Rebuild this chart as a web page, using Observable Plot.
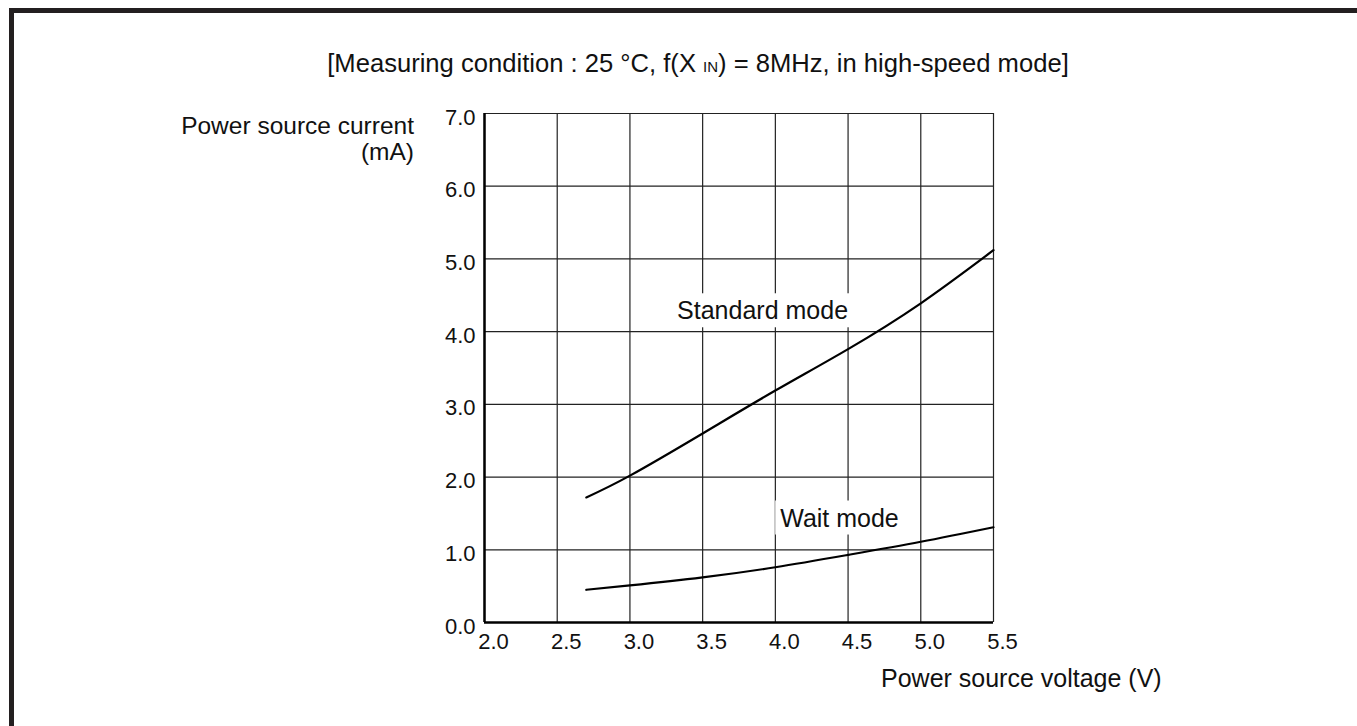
<!DOCTYPE html>
<html>
<head>
<meta charset="utf-8">
<script src="https://cdn.jsdelivr.net/npm/d3@7"></script>
<script src="https://cdn.jsdelivr.net/npm/@observablehq/plot@0.6"></script>
<style>
  html, body { margin: 0; padding: 0; background: #fff; }
  #wrap { position: relative; width: 1357px; height: 726px; overflow: hidden; font-family: "Liberation Sans", Arial, sans-serif; }
  #frame { position: absolute; left: 9px; top: 8px; width: 1360px; height: 730px;
           border-left: 5px solid #231f20; border-top: 5px solid #231f20; box-sizing: border-box; pointer-events: none; }
  svg text { font-family: "Liberation Sans", Arial, sans-serif; }
</style>
</head>
<body>
<div id="wrap"><div id="frame"></div></div>
<script>
// ---- data ----
const xTicks = [2.0, 2.5, 3.0, 3.5, 4.0, 4.5, 5.0, 5.5];
const yTicks = [0, 1, 2, 3, 4, 5, 6, 7];

const standardV = [2.70, 3.0, 3.5, 4.0, 4.5, 5.0, 5.5];
const standardI = [1.72, 2.02, 2.60, 3.19, 3.76, 4.39, 5.12];

const waitV = [2.70, 3.0, 3.5, 4.0, 4.5, 5.0, 5.5];
const waitI = [0.45, 0.51, 0.62, 0.76, 0.93, 1.11, 1.31];

const labelText = ["Standard mode", "Wait mode"];
const labelV = [3.912, 4.441];
const labelI = [4.28, 1.43];

const titleText = "[Measuring condition : 25 \u00B0C, f(X ";
const titleSub = "IN";
const titleRest = ") = 8MHz, in high-speed mode]";
const yLabel1 = "Power source current";
const yLabel2 = "(mA)";
const xLabel = "Power source voltage (V)";

const standard = standardV.map((v, i) => ({v, i: standardI[i]}));
const wait = waitV.map((v, i) => ({v, i: waitI[i]}));
const labels = labelText.map((t, k) => ({t, v: labelV[k], i: labelI[k]}));

const W = 1357, H = 726;
const fmt = d3.format(".1f");
const chart = Plot.plot({
  width: W, height: H,
  marginLeft: 484, marginRight: 364, marginTop: 113, marginBottom: 104,
  style: {fontFamily: '"Liberation Sans", Arial, sans-serif', fontSize: "22px", color: "#111", background: "transparent", overflow: "visible"},
  x: {domain: [2, 5.5], label: null},
  y: {domain: [0, 7], label: null},
  marks: [
    Plot.gridX(xTicks, {stroke: "#222", strokeOpacity: 1, strokeWidth: 1.2}),
    Plot.gridY(yTicks, {stroke: "#222", strokeOpacity: 1, strokeWidth: 1.2}),
    Plot.line(standard, {x: "v", y: "i", curve: "natural", stroke: "#000", strokeWidth: 2.2}),
    Plot.line(wait, {x: "v", y: "i", curve: "natural", stroke: "#000", strokeWidth: 2.2}),
    Plot.text(labels, {x: "v", y: "i", text: "t", fontSize: 25, fill: "#111"}),
    Plot.ruleX([2], {stroke: "#000", strokeWidth: 2.5}),
    Plot.ruleY([0], {stroke: "#000", strokeWidth: 2.5}),
    Plot.axisX({ticks: xTicks, tickFormat: fmt, tickSize: 0, tickPadding: 11, dx: 9, fontSize: 22, label: null}),
    Plot.axisY({ticks: yTicks, tickFormat: fmt, tickSize: 0, tickPadding: 9, dy: 4, fontSize: 22, label: null})
  ]
});
chart.style.position = "absolute";
chart.style.left = "0px";
chart.style.top = "0px";
document.getElementById("wrap").insertBefore(chart, document.getElementById("frame"));

const svg = d3.select(chart);
// white boxes behind curve labels (same transform as the text)
svg.selectAll("text").filter(function() { return labelText.includes(this.textContent); }).each(function() {
  const bb = this.getBBox();
  const r = d3.select(this.parentNode).insert("rect", () => this)
    .attr("x", bb.x - 5).attr("y", bb.y - 3)
    .attr("width", bb.width + 10).attr("height", bb.height + 6)
    .attr("fill", "#fff").attr("stroke", "none");
  const tr = this.getAttribute("transform");
  if (tr) r.attr("transform", tr);
});

// title
const t = svg.append("text").attr("x", 698).attr("y", 72).attr("text-anchor", "middle")
  .attr("font-size", 25.6).attr("fill", "#111");
t.append("tspan").text(titleText);
t.append("tspan").attr("font-size", 15).text(titleSub);
t.append("tspan").text(titleRest);

// y label
svg.append("text").attr("x", 414).attr("y", 134).attr("text-anchor", "end")
  .attr("font-size", 24.5).attr("fill", "#111").text(yLabel1);
svg.append("text").attr("x", 414).attr("y", 160).attr("text-anchor", "end")
  .attr("font-size", 24.5).attr("fill", "#111").text(yLabel2);
// x label
svg.append("text").attr("x", 881).attr("y", 687).attr("text-anchor", "start")
  .attr("font-size", 25).attr("fill", "#111").text(xLabel);
</script>
</body>
</html>
